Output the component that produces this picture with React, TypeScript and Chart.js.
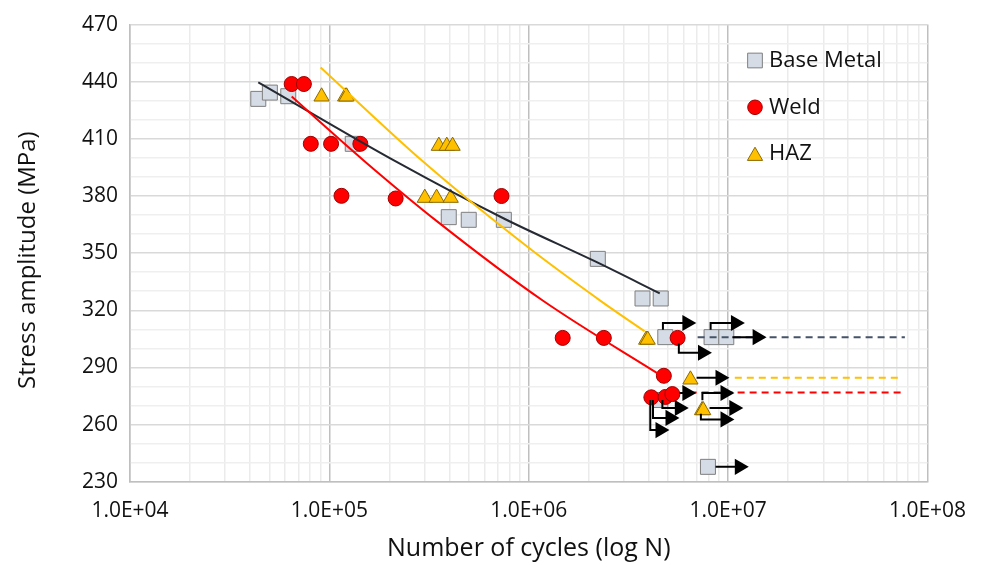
import React, { useEffect, useRef } from 'react';
import { Chart, registerables } from 'chart.js';
import { drawPoint } from 'chart.js/helpers';

Chart.register(...registerables);

const FONT = "'Open Sans', 'DejaVu Sans', sans-serif";

// ---- axis ticks ----
const xDecades = [1e4, 1e5, 1e6, 1e7, 1e8];
const xDecadeLabels = ['1.0E+04', '1.0E+05', '1.0E+06', '1.0E+07', '1.0E+08'];
const xMinorMultipliers = [1, 2, 3, 4, 5, 6, 7, 8, 9];
const yGridValues = [230, 240, 250, 260, 270, 280, 290, 300, 310, 320, 330, 340, 350, 360, 370, 380, 390, 400, 410, 420, 430, 440, 450, 460, 470];
const yLabelValues = [230, 260, 290, 320, 350, 380, 410, 440, 470];
const xTitle = 'Number of cycles (log N)';
const yTitle = 'Stress amplitude (MPa)';

// ---- series: Base Metal ----
const baseMetalN = [4.40e4, 5.03e4, 6.22e4, 1.31e5, 3.97e5, 5.0e5, 7.5e5, 2.22e6, 3.72e6, 4.59e6, 4.84e6, 8.26e6, 9.79e6, 7.92e6, 4.57e6];
const baseMetalS = [431, 434.3, 432.4, 407.4, 368.9, 367.5, 367.5, 347, 326.2, 326.2, 305.9, 305.9, 305.9, 237.8, 272.9];

// ---- series: Weld ----
const weldN = [6.47e4, 7.45e4, 8.07e4, 1.02e5, 1.43e5, 1.15e5, 2.15e5, 7.3e5, 1.48e6, 2.38e6, 5.58e6, 4.76e6, 4.12e6, 4.85e6, 5.25e6];
const weldS = [438.8, 438.8, 407.4, 407.4, 407.4, 380.1, 378.7, 380, 305.5, 305.5, 305.5, 285.6, 274.3, 274.5, 276];

// ---- series: HAZ ----
const hazN = [9.14e4, 1.20e5, 1.22e5, 3.54e5, 3.88e5, 4.15e5, 3.01e5, 3.45e5, 4.06e5, 3.88e6, 3.95e6, 6.47e6, 7.40e6, 7.50e6];
const hazS = [432.2, 432.2, 432.2, 406.3, 406.3, 406.3, 379, 379, 379, 304.5, 304.5, 283.6, 267.5, 267.5];

// ---- trendlines ----
const bmTrendN = [4.4e4, 2.21e5, 7.5e5, 2.22e6, 4.54e6];
const bmTrendS = [439.7, 397.5, 368.2, 345, 328.9];
const weldTrendN = [6.47e4, 1.5e5, 3.51e5, 1.18e6, 4.7e6];
const weldTrendS = [432.2, 398.3, 366.3, 325, 285.2];
const hazTrendN = [9.04e4, 2.95e5, 1.0e6, 2.31e6, 3.81e6];
const hazTrendS = [447.5, 398.1, 352.8, 324.7, 309];

// ---- run-out (dashed) levels ----
const bmRunoutN = [7.03e6, 7.7e7];
const bmRunoutS = [305.9, 305.9];
const hazRunoutN = [1.08e7, 7.5e7];
const hazRunoutS = [284.6, 284.6];
const weldRunoutN = [6.41e6, 7.5e7];
const weldRunoutS = [276.8, 276.8];

// ---- run-out arrows: polylines [N, S], last point is the arrow head ----
const runoutArrows: number[][][] = [
  [[4.71e6, 309.8], [4.71e6, 313.3], [6.22e6, 313.3]],
  [[5.66e6, 302.6], [5.66e6, 297.7], [7.45e6, 297.7]],
  [[8.17e6, 309.8], [8.17e6, 313.3], [1.09e7, 313.3]],
  [[1.05e7, 305.9], [1.40e7, 305.9]],
  [[6.95e6, 284.6], [9.12e6, 284.6]],
  [[5.71e6, 276.6], [6.22e6, 276.6]],
  [[7.43e6, 272.8], [7.43e6, 276.6], [9.66e6, 276.6]],
  [[8.07e6, 268.7], [1.07e7, 268.7]],
  [[7.30e6, 265.7], [7.30e6, 262.7], [9.66e6, 262.7]],
  [[4.68e6, 272.9], [4.68e6, 268.7], [5.70e6, 268.7]],
  [[4.20e6, 272.9], [4.20e6, 263.5], [5.12e6, 263.5]],
  [[4.07e6, 272.9], [4.07e6, 257.1], [4.56e6, 257.1]],
  [[8.65e6, 237.8], [1.14e7, 237.8]],
];

const legendLabels = ['Base Metal', 'Weld', 'HAZ'];

const zip = (xs: number[], ys: number[]) => xs.map((x, i) => ({ x, y: ys[i] }));

const isDecade = (v: number) => Math.abs(Math.log10(v) - Math.round(Math.log10(v))) < 1e-9;

const legendPlugin = {
  id: 'insideLegend',
  afterDraw(chart: any) {
    const ctx = chart.ctx as CanvasRenderingContext2D;
    const styles = [
      { pointStyle: 'rect', radius: 10.4, fill: '#D6DCE5', stroke: '#7F7F7F', dy: 0 },
      { pointStyle: 'circle', radius: 7.3, fill: '#FF0000', stroke: '#A00000', dy: 0 },
      { pointStyle: 'triangle', radius: 8.8, fill: '#FFC000', stroke: '#8C6A00', dy: 2 },
    ];
    const markerX = 755;
    const textX = 769;
    const rowY = [60.5, 107.3, 154];
    ctx.save();
    legendLabels.forEach((label, i) => {
      const s = styles[i];
      ctx.fillStyle = s.fill;
      ctx.strokeStyle = s.stroke;
      ctx.lineWidth = 1;
      drawPoint(ctx, { pointStyle: s.pointStyle as any, radius: s.radius, rotation: 0, borderWidth: 1 }, markerX, rowY[i] + s.dy);
      ctx.fillStyle = '#111111';
      ctx.font = `22px ${FONT}`;
      ctx.textBaseline = 'middle';
      ctx.textAlign = 'left';
      ctx.fillText(label, textX, rowY[i]);
    });
    // vertical axis title
    const area = chart.chartArea;
    ctx.translate(28, (area.top + area.bottom) / 2 + 7);
    ctx.rotate(-Math.PI / 2);
    ctx.font = `24px ${FONT}`;
    ctx.textAlign = 'center';
    ctx.textBaseline = 'middle';
    ctx.fillStyle = '#111111';
    ctx.fillText(yTitle, 0, 0);
    ctx.restore();
  },
};

function arrowDataset(points: number[][], order: number) {
  const last = points.length - 1;
  return {
    data: points.map(([x, y]) => ({ x, y })),
    showLine: true,
    borderColor: '#000000',
    borderWidth: 2,
    borderJoinStyle: 'miter',
    pointStyle: 'triangle',
    pointRotation: 90,
    pointRadius: (c: any) => (c.dataIndex === last ? 9.3 : 0),
    pointBackgroundColor: '#000000',
    pointBorderColor: '#000000',
    pointBorderWidth: 0,
    tension: 0,
    order,
  };
}

export default function App() {
  const ref = useRef<HTMLCanvasElement>(null);
  useEffect(() => {
    document.body.style.margin = '0';
    const canvas = ref.current!;
    const datasets: any[] = [
      {
        label: 'Base Metal', data: zip(baseMetalN, baseMetalS), pointStyle: 'rect', pointRadius: 10.6,
        backgroundColor: '#D6DCE5', borderColor: '#7F7F7F', borderWidth: 1, showLine: false, order: 9,
      },
      {
        label: 'Weld', data: zip(weldN, weldS), pointStyle: 'circle', pointRadius: 7.5,
        backgroundColor: '#FF0000', borderColor: '#A00000', borderWidth: 1, showLine: false, order: 8,
      },
      {
        label: 'HAZ', data: zip(hazN, hazS), pointStyle: 'triangle', pointRadius: 8.8,
        backgroundColor: '#FFC000', borderColor: '#8C6A00', borderWidth: 1, showLine: false, order: 7,
      },
      {
        data: zip(bmTrendN, bmTrendS), showLine: true, borderColor: '#262A33', borderWidth: 2, pointRadius: 0,
        cubicInterpolationMode: 'monotone', order: 6,
      },
      {
        data: zip(weldTrendN, weldTrendS), showLine: true, borderColor: '#FF0000', borderWidth: 2, pointRadius: 0,
        cubicInterpolationMode: 'monotone', order: 5,
      },
      {
        data: zip(hazTrendN, hazTrendS), showLine: true, borderColor: '#FFC000', borderWidth: 2, pointRadius: 0,
        cubicInterpolationMode: 'monotone', order: 4,
      },
      {
        data: zip(bmRunoutN, bmRunoutS), showLine: true, borderColor: '#44546A', borderWidth: 2, borderDash: [7, 5],
        pointRadius: 0, order: 3,
      },
      {
        data: zip(hazRunoutN, hazRunoutS), showLine: true, borderColor: '#FFC000', borderWidth: 2, borderDash: [7, 5],
        pointRadius: 0, order: 3,
      },
      {
        data: zip(weldRunoutN, weldRunoutS), showLine: true, borderColor: '#FF0000', borderWidth: 2, borderDash: [7, 5],
        pointRadius: 0, order: 3,
      },
      ...runoutArrows.map((a) => arrowDataset(a, 1)),
    ];

    const chart = new Chart(canvas, {
      type: 'scatter',
      data: { datasets },
      plugins: [legendPlugin],
      options: {
        animation: false,
        responsive: false,
        devicePixelRatio: 1,
        events: [],
        layout: { padding: { top: 21, right: 53.5, left: 0, bottom: 0 } },
        plugins: { legend: { display: false }, tooltip: { enabled: false } },
        scales: {
          x: {
            type: 'logarithmic',
            min: 1e4,
            max: 1e8,
            afterBuildTicks: (scale: any) => {
              const ticks: any[] = [];
              xDecades.forEach((d, i) => {
                xMinorMultipliers.forEach((m) => {
                  if (i < xDecades.length - 1 || m === 1) ticks.push({ value: d * m });
                });
              });
              scale.ticks = ticks;
            },
            afterFit: (scale: any) => {
              scale.height = 564 - 481.7;
              scale.paddingLeft = 0;
              scale.paddingRight = 0;
            },
            ticks: {
              autoSkip: false,
              maxRotation: 0,
              minRotation: 0,
              padding: 17,
              color: '#111111',
              font: { family: FONT, size: 21 },
              callback: (value: any) => {
                const v = Number(value);
                const idx = xDecades.findIndex((d) => Math.abs(v / d - 1) < 1e-6);
                return idx >= 0 ? xDecadeLabels[idx] : '';
              },
            },
            grid: {
              drawTicks: false,
              color: (c: any) => (c.tick && isDecade(c.tick.value) ? '#BFBFBF' : '#EBEBEB'),
              lineWidth: 1.5,
            },
            border: { display: true, color: '#BFBFBF', width: 1.5 },
            title: {
              display: true,
              text: xTitle,
              color: '#111111',
              font: { family: FONT, size: 25 },
              padding: { top: 3, bottom: 0 },
            },
          },
          y: {
            type: 'linear',
            min: 230,
            max: 470,
            afterBuildTicks: (scale: any) => {
              scale.ticks = yGridValues.map((v) => ({ value: v }));
            },
            afterFit: (scale: any) => { scale.width = 130; },
            ticks: {
              autoSkip: false,
              padding: 12,
              color: '#111111',
              font: { family: FONT, size: 21 },
              callback: (value: any) => (yLabelValues.includes(Number(value)) ? String(value) : ''),
            },
            grid: {
              drawTicks: false,
              color: (c: any) => (c.tick && yLabelValues.includes(c.tick.value) ? '#D9D9D9' : '#EFEFEF'),
              lineWidth: 1.5,
            },
            border: { display: true, color: '#BFBFBF', width: 1.5 },
            title: { display: false },
          },
        },
      } as any,
    });
    return () => chart.destroy();
  }, []);

  return (
    <div style={{ position: 'absolute', left: 0, top: 0, width: 981, height: 564, background: '#ffffff' }}>
      <canvas ref={ref} width={981} height={564} style={{ display: 'block' }} />
    </div>
  );
}
